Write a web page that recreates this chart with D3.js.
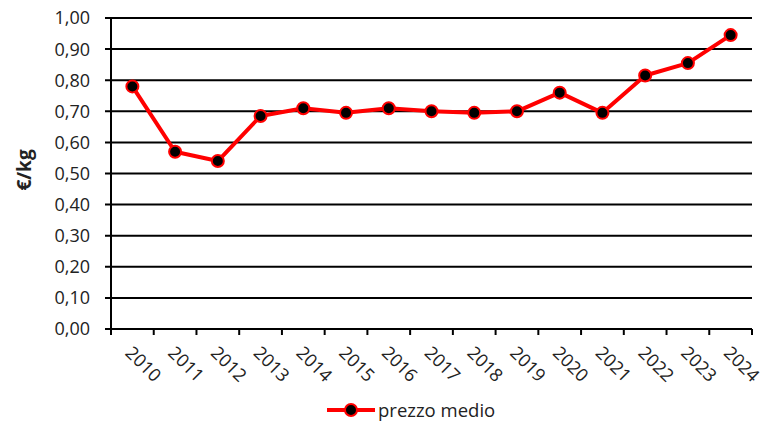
<!DOCTYPE html>
<html>
<head>
<meta charset="utf-8">
<script src="https://cdn.jsdelivr.net/npm/d3@7"></script>
<style>
  body { margin: 0; background: #fff; }
  text { font-family: "Open Sans", "Noto Sans", sans-serif; fill: #222; }
</style>
</head>
<body>
<script>
var years = ["2010","2011","2012","2013","2014","2015","2016","2017","2018","2019","2020","2021","2022","2023","2024"];
var prices = [0.78, 0.57, 0.54, 0.685, 0.71, 0.695, 0.71, 0.70, 0.695, 0.70, 0.76, 0.695, 0.815, 0.855, 0.945];
var yTicks = [0, 0.1, 0.2, 0.3, 0.4, 0.5, 0.6, 0.7, 0.8, 0.9, 1.0];
var seriesName = "prezzo medio";
var yLabel = "€/kg";

var margin = {top: 18, right: 13, bottom: 92, left: 111},
    W = 765, H = 421,
    width = W - margin.left - margin.right,
    height = H - margin.top - margin.bottom;

var svg = d3.select("body").append("svg")
    .attr("width", W).attr("height", H);

var g = svg.append("g")
    .attr("transform", "translate(" + margin.left + "," + margin.top + ")");

var x = d3.scaleBand().domain(years).range([0, width]);
var y = d3.scaleLinear().domain([0, 1]).range([height, 0]);
var fmt = function(d){ return d3.format(".2f")(d).replace(".", ","); };

// gridlines
g.selectAll(".grid").data(yTicks).enter().append("line")
    .attr("x1", -6).attr("x2", width)
    .attr("y1", function(d){ return y(d); }).attr("y2", function(d){ return y(d); })
    .attr("stroke", "#000").attr("stroke-width", 2);

// y labels
g.selectAll(".ylab").data(yTicks).enter().append("text")
    .attr("x", -21).attr("y", function(d){ return y(d); })
    .attr("dy", "0.36em").attr("text-anchor", "end")
    .style("font-size", "18px")
    .text(fmt);

// y axis line
g.append("line").attr("x1", 0).attr("x2", 0).attr("y1", 0).attr("y2", height)
    .attr("stroke", "#000").attr("stroke-width", 2);

// x ticks at band edges
var edges = years.map(function(d){ return x(d); }).concat([width]);
g.selectAll(".xtick").data(edges).enter().append("line")
    .attr("x1", function(d){ return d; }).attr("x2", function(d){ return d; })
    .attr("y1", height).attr("y2", height + 6)
    .attr("stroke", "#000").attr("stroke-width", 2);

// x labels rotated
g.selectAll(".xlab").data(years).enter().append("text")
    .attr("transform", function(d){
      return "translate(" + (x(d) + x.bandwidth()/2 - 8) + "," + (height + 25) + ") rotate(45)";
    })
    .style("font-size", "18px")
    .text(function(d){ return d; });

// y axis title
svg.append("text")
    .attr("transform", "translate(31,170) rotate(-90)")
    .attr("text-anchor", "middle")
    .style("font-size", "19px").style("font-weight", "bold")
    .text(yLabel);

// line
var line = d3.line()
    .x(function(d, i){ return x(years[i]) + x.bandwidth()/2; })
    .y(function(d){ return y(d); });

g.append("path").datum(prices)
    .attr("d", line)
    .attr("fill", "none").attr("stroke", "#ff0000").attr("stroke-width", 4)
    .attr("stroke-linejoin", "round");

g.selectAll(".pt").data(prices).enter().append("circle")
    .attr("cx", function(d, i){ return x(years[i]) + x.bandwidth()/2; })
    .attr("cy", function(d){ return y(d); })
    .attr("r", 6)
    .attr("fill", "#000").attr("stroke", "#ff0000").attr("stroke-width", 2);

// legend
var lg = svg.append("g").attr("transform", "translate(327,410)");
lg.append("line").attr("x1", 0).attr("x2", 48).attr("y1", 0).attr("y2", 0)
    .attr("stroke", "#ff0000").attr("stroke-width", 4);
lg.append("circle").attr("cx", 24).attr("cy", 0).attr("r", 6)
    .attr("fill", "#000").attr("stroke", "#ff0000").attr("stroke-width", 2);
lg.append("text").attr("x", 51).attr("y", 0).attr("dy", "0.36em")
    .style("font-size", "18.5px")
    .text(seriesName);
</script>
</body>
</html>
